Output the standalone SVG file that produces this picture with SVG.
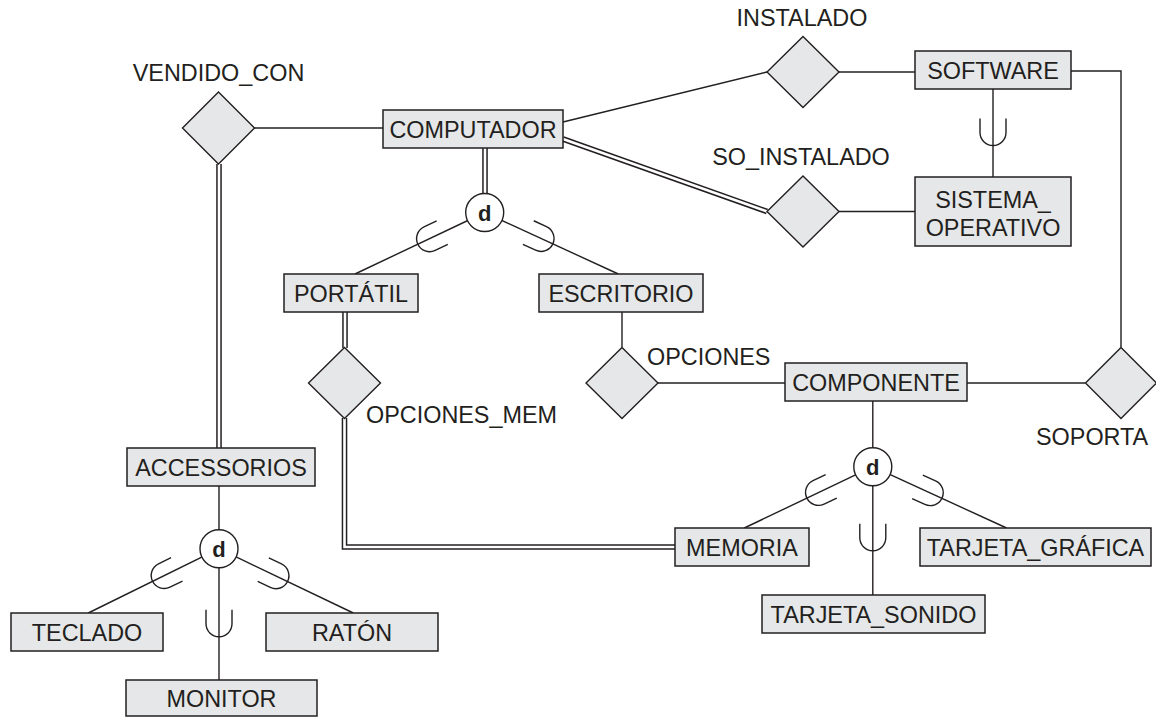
<svg xmlns="http://www.w3.org/2000/svg" width="1156" height="717" viewBox="0 0 1156 717">
<style>
.ln{fill:none;stroke:#231f20;stroke-width:1.4}
.dbo{fill:none;stroke:#231f20;stroke-width:5.6}
.dbi{fill:none;stroke:#ffffff;stroke-width:2.6}
.ent{fill:#e6e7e8;stroke:#231f20;stroke-width:1.5}
.rel{fill:#e6e7e8;stroke:#231f20;stroke-width:1.4}
.dc{fill:#ffffff;stroke:#231f20;stroke-width:1.4}
.t{font-family:"Liberation Sans",Arial,sans-serif;font-size:23.4px;fill:#231f20}
.c{text-anchor:middle}
.d{font-family:"Liberation Sans",Arial,sans-serif;font-size:22px;font-weight:bold;fill:#231f20;text-anchor:middle}
</style>
<defs>
<path id="cup" d="M-13,-14 V0 A13,13 0 0 0 13,0 V-14" fill="none" stroke="#231f20" stroke-width="1.4"/>
</defs>
<rect width="1156" height="717" fill="#ffffff"/>
<g id="connectors">
<path class="ln" d="M254,128 H383"/>
<path class="ln" d="M563,122 L767,72"/>
<path class="ln" d="M839,72 H915"/>
<path class="ln" d="M839,211.5 H915"/>
<path class="ln" d="M1071,71 H1121 V347"/>
<path class="ln" d="M993,89 V177"/>
<path class="ln" d="M1085,383 H967"/>
<path class="ln" d="M785,383 H658"/>
<path class="ln" d="M622,312 V347"/>
<path class="ln" d="M484.7,212.5 L355,274"/>
<path class="ln" d="M484.7,212.5 L618.3,274"/>
<path class="ln" d="M872.8,401 V595"/>
<path class="ln" d="M872.8,466.7 L744.3,528"/>
<path class="ln" d="M872.8,466.7 L1006.6,528"/>
<path class="ln" d="M219,486 V680"/>
<path class="ln" d="M219,548.7 L88.3,613"/>
<path class="ln" d="M219,548.7 L353.3,613"/>
<path class="dbo" d="M563,139 L767,211.5"/>
<path class="dbi" d="M563,139 L767,211.5"/>
<path class="dbo" d="M485,148 V194"/>
<path class="dbi" d="M485,148 V194"/>
<path class="dbo" d="M219,164 V448"/>
<path class="dbi" d="M219,164 V448"/>
<path class="dbo" d="M345,312 V348"/>
<path class="dbi" d="M345,312 V348"/>
<path class="dbo" d="M344.5,418 V547 H675"/>
<path class="dbi" d="M344.5,418 V547 H675"/>
<use href="#cup" transform="translate(993,132.5)"/>
<use href="#cup" transform="translate(484.7,212.5) rotate(64.6) translate(0,61)"/>
<use href="#cup" transform="translate(484.7,212.5) rotate(-65.3) translate(0,62)"/>
<use href="#cup" transform="translate(872.8,466.7) rotate(64.7) translate(0,60)"/>
<use href="#cup" transform="translate(872.8,466.7) rotate(-65.7) translate(0,63)"/>
<use href="#cup" transform="translate(872.8,466.7) translate(0,71)"/>
<use href="#cup" transform="translate(219,548.7) rotate(63.9) translate(0,61)"/>
<use href="#cup" transform="translate(219,548.7) rotate(-64.6) translate(0,63)"/>
<use href="#cup" transform="translate(219,548.7) translate(0,75)"/>
</g>
<g id="computador"><rect class="ent" x="383" y="110" width="180" height="38"/><text class="t c" x="473" y="137.5">COMPUTADOR</text></g>
<g id="software"><rect class="ent" x="915" y="51" width="156" height="38"/><text class="t c" x="993" y="78.5">SOFTWARE</text></g>
<g id="sistema_operativo"><rect class="ent" x="915" y="177" width="156" height="69"/><text class="t c" x="993" y="207.5">SISTEMA_</text><text class="t c" x="993" y="235.5">OPERATIVO</text></g>
<g id="portatil"><rect class="ent" x="284" y="274" width="134" height="38"/><text class="t c" x="351" y="301.5">PORTÁTIL</text></g>
<g id="escritorio"><rect class="ent" x="539" y="274" width="164" height="38"/><text class="t c" x="621" y="301.5">ESCRITORIO</text></g>
<g id="componente"><rect class="ent" x="785" y="363" width="182" height="38"/><text class="t c" x="876" y="390.5">COMPONENTE</text></g>
<g id="memoria"><rect class="ent" x="675" y="528" width="134" height="38"/><text class="t c" x="742" y="555.5">MEMORIA</text></g>
<g id="tarjeta_grafica"><rect class="ent" x="920" y="528" width="231" height="38"/><text class="t c" x="1035.5" y="555.5">TARJETA_GRÁFICA</text></g>
<g id="tarjeta_sonido"><rect class="ent" x="762" y="595" width="223" height="38"/><text class="t c" x="873.5" y="622.5">TARJETA_SONIDO</text></g>
<g id="accessorios"><rect class="ent" x="127" y="448" width="188" height="38"/><text class="t c" x="221" y="475.5">ACCESSORIOS</text></g>
<g id="teclado"><rect class="ent" x="11" y="613" width="152" height="38"/><text class="t c" x="87" y="640.5">TECLADO</text></g>
<g id="raton"><rect class="ent" x="266" y="613" width="172" height="38"/><text class="t c" x="352" y="640.5">RATÓN</text></g>
<g id="monitor"><rect class="ent" x="126" y="680" width="191" height="36"/><text class="t c" x="221.5" y="706.5">MONITOR</text></g>
<g id="vendido_con"><path class="rel" d="M218.5,92 L254.5,128 L218.5,164 L182.5,128 Z"/><text class="t c" x="218.5" y="81">VENDIDO_CON</text></g>
<g id="instalado"><path class="rel" d="M803,36.5 L839,72 L803,107.5 L767,72 Z"/><text class="t c" x="802" y="26">INSTALADO</text></g>
<g id="so_instalado"><path class="rel" d="M803,176 L839,211.5 L803,247 L767,211.5 Z"/><text class="t c" x="801" y="165">SO_INSTALADO</text></g>
<g id="opciones_mem"><path class="rel" d="M344.5,347.5 L380.5,383 L344.5,418.5 L308.5,383 Z"/><text class="t" x="366" y="422.5">OPCIONES_MEM</text></g>
<g id="opciones"><path class="rel" d="M622,347.5 L658,383 L622,418.5 L586,383 Z"/><text class="t" x="647" y="365">OPCIONES</text></g>
<g id="soporta"><path class="rel" d="M1121,347.5 L1156.5,383 L1121,418.5 L1085.5,383 Z"/><text class="t" x="1036" y="445">SOPORTA</text></g>
<g id="d_computador"><circle class="dc" cx="484.7" cy="212.5" r="19"/><text class="d" x="484.7" y="220.5">d</text></g>
<g id="d_componente"><circle class="dc" cx="872.8" cy="466.7" r="19"/><text class="d" x="872.8" y="474.7">d</text></g>
<g id="d_accessorios"><circle class="dc" cx="219" cy="548.7" r="19"/><text class="d" x="219" y="556.7">d</text></g>
</svg>
